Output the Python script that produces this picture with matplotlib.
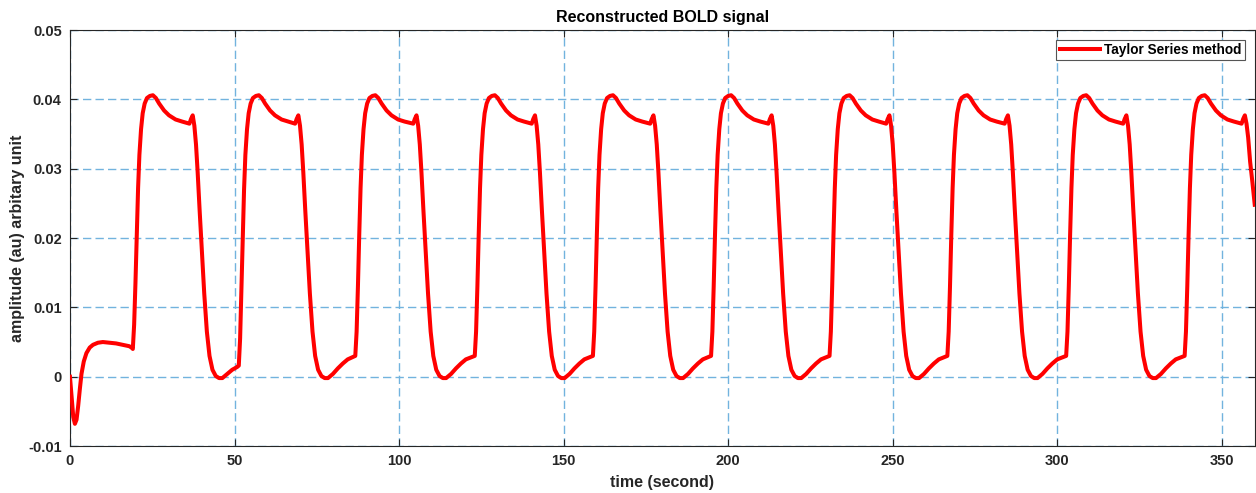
import matplotlib
matplotlib.use('Agg')
import matplotlib.pyplot as plt

# reconstructed BOLD response (time in s)
t_start = [0.0, 0.5, 1.0, 1.5, 2.0, 2.5, 3.0, 3.5, 4.2, 5.0, 6.0, 7.0, 8.5,
           10.0, 12.0, 14.0, 16.0, 18.0, 18.7]
y_start = [0.0, -0.0030, -0.0058, -0.0068, -0.0062, -0.0042, -0.0018, 0.0004,
           0.0022, 0.0034, 0.0042, 0.0046, 0.0049, 0.0050, 0.0049, 0.0048,
           0.0046, 0.0044, 0.0042]

t_cycles = [
    [19.1, 19.5, 19.9, 20.3, 20.7, 21.1, 21.6, 22.1, 22.7, 23.4, 24.3, 25.2,
     26.1, 27.1, 28.6, 30.1, 32.1, 34.1, 36.3, 36.8, 37.3,
     37.8, 38.3, 38.8, 39.4, 40.1, 40.8, 41.6, 42.4, 43.3, 44.3, 45.3, 46.3,
     47.8, 49.3, 50.8],
    [51.3, 51.7, 52.1, 52.5, 52.9, 53.3, 53.8, 54.3, 54.9, 55.6, 56.5, 57.4,
     58.3, 59.3, 60.8, 62.3, 64.3, 66.3, 68.4, 68.9, 69.4,
     69.9, 70.4, 70.9, 71.5, 72.2, 72.9, 73.7, 74.5, 75.4, 76.4, 77.4, 78.4,
     79.9, 81.4, 82.9, 84.4, 86.2],
    [86.7, 87.1, 87.5, 87.9, 88.3, 88.7, 89.2, 89.7, 90.3, 91.0, 91.9, 92.8,
     93.7, 94.7, 96.2, 97.7, 99.7, 101.7, 104.3, 104.8, 105.3,
     105.8, 106.3, 106.8, 107.4, 108.1, 108.8, 109.6, 110.4, 111.3, 112.3,
     113.3, 114.3, 115.8, 117.3, 118.8, 120.3, 122.5],
    [123.0, 123.4, 123.8, 124.2, 124.6, 125.0, 125.5, 126.0, 126.6, 127.3,
     128.2, 129.1, 130.0, 131.0, 132.5, 134.0, 136.0, 138.0, 140.3, 140.8,
     141.3,
     141.8, 142.3, 142.8, 143.4, 144.1, 144.8, 145.6, 146.4, 147.3, 148.3,
     149.3, 150.3, 151.8, 153.3, 154.8, 156.3, 158.4],
    [158.9, 159.3, 159.7, 160.1, 160.5, 160.9, 161.4, 161.9, 162.5, 163.2,
     164.1, 165.0, 165.9, 166.9, 168.4, 169.9, 171.9, 173.9, 176.3, 176.8,
     177.3,
     177.8, 178.3, 178.8, 179.4, 180.1, 180.8, 181.6, 182.4, 183.3, 184.3,
     185.3, 186.3, 187.8, 189.3, 190.8, 192.3, 194.3],
    [194.8, 195.2, 195.6, 196.0, 196.4, 196.8, 197.3, 197.8, 198.4, 199.1,
     200.0, 200.9, 201.8, 202.8, 204.3, 205.8, 207.8, 209.8, 212.2, 212.7,
     213.2,
     213.7, 214.2, 214.7, 215.3, 216.0, 216.7, 217.5, 218.3, 219.2, 220.2,
     221.2, 222.2, 223.7, 225.2, 226.7, 228.2, 230.3],
    [230.8, 231.2, 231.6, 232.0, 232.4, 232.8, 233.3, 233.8, 234.4, 235.1,
     236.0, 236.9, 237.8, 238.8, 240.3, 241.8, 243.8, 245.8, 248.0, 248.5,
     249.0,
     249.5, 250.0, 250.5, 251.1, 251.8, 252.5, 253.3, 254.1, 255.0, 256.0,
     257.0, 258.0, 259.5, 261.0, 262.5, 264.0, 266.1],
    [266.6, 267.0, 267.4, 267.8, 268.2, 268.6, 269.1, 269.6, 270.2, 270.9,
     271.8, 272.7, 273.6, 274.6, 276.1, 277.6, 279.6, 281.6, 284.0, 284.5,
     285.0,
     285.5, 286.0, 286.5, 287.1, 287.8, 288.5, 289.3, 290.1, 291.0, 292.0,
     293.0, 294.0, 295.5, 297.0, 298.5, 300.0, 302.2],
    [302.7, 303.1, 303.5, 303.9, 304.3, 304.7, 305.2, 305.7, 306.3, 307.0,
     307.9, 308.8, 309.7, 310.7, 312.2, 313.7, 315.7, 317.7, 320.0, 320.5,
     321.0,
     321.5, 322.0, 322.5, 323.1, 323.8, 324.5, 325.3, 326.1, 327.0, 328.0,
     329.0, 330.0, 331.5, 333.0, 334.5, 336.0, 338.2],
    [338.7, 339.1, 339.5, 339.9, 340.3, 340.7, 341.2, 341.7, 342.3, 343.0,
     343.9, 344.8, 345.7, 346.7, 348.2, 349.7, 351.7, 353.7, 356.0, 356.5,
     357.0,
     357.5, 358.0, 358.6, 359.3, 360.0],
]

y_on_first = [0.0040, 0.0075, 0.0135, 0.0205, 0.0272, 0.0320, 0.0357, 0.0380,
              0.0394, 0.0402, 0.0405, 0.0406, 0.0402, 0.0394, 0.0384, 0.0377,
              0.0371, 0.0368, 0.0365, 0.0372, 0.0377]
y_off_first = [0.0362, 0.0335, 0.0295, 0.0240, 0.0180, 0.0120, 0.0065, 0.0030,
               0.0010, 0.0001, -0.0002, -0.0002, 0.0004, 0.0010, 0.0014]
y_on_second = [0.0016, 0.0055, 0.0125, 0.0200, 0.0270, 0.0320, 0.0357, 0.0380,
               0.0394, 0.0402, 0.0405, 0.0406, 0.0402, 0.0394, 0.0384, 0.0377,
               0.0371, 0.0368, 0.0365, 0.0372, 0.0377]
y_on = [0.0030, 0.0065, 0.0130, 0.0205, 0.0272, 0.0320, 0.0357, 0.0380,
        0.0394, 0.0402, 0.0405, 0.0406, 0.0402, 0.0394, 0.0384, 0.0377,
        0.0371, 0.0368, 0.0365, 0.0372, 0.0377]
y_off = [0.0362, 0.0335, 0.0295, 0.0240, 0.0180, 0.0120, 0.0065, 0.0030,
         0.0010, 0.0001, -0.0002, -0.0002, 0.0004, 0.0012, 0.0019, 0.0025,
         0.0029]
y_tail = [0.0365, 0.0345, 0.0310, 0.0280, 0.0248]

x_ticks = [0, 50, 100, 150, 200, 250, 300, 350]
y_ticks = [-0.01, 0, 0.01, 0.02, 0.03, 0.04, 0.05]
y_tick_labels = ['-0.01', '0', '0.01', '0.02', '0.03', '0.04', '0.05']


def build_series():
    t = list(t_start)
    y = list(y_start)
    y_cycles = [y_on_first + y_off_first, y_on_second + y_off]
    y_cycles += [y_on + y_off] * 7
    y_cycles += [y_on + y_tail]
    for tc, yc in zip(t_cycles, y_cycles):
        t += tc
        y += yc
    return t, y


if __name__ == "__main__":

    plt.rcParams['font.family'] = ['Liberation Sans', 'DejaVu Sans']
    plt.rcParams['font.weight'] = 'bold'

    t, bold = build_series()

    fig = plt.figure(figsize=(12.56, 4.93), dpi=100)
    ax = fig.add_axes([0.0557, 0.0953, 0.9433, 0.8437])

    ax.plot(t, bold, color='red', lw=2.9, label='Taylor Series method',
            zorder=3)

    ax.set_xlim(0, 360)
    ax.set_ylim(-0.01, 0.05)
    ax.set_xticks(x_ticks)
    ax.set_yticks(y_ticks)
    ax.set_yticklabels(y_tick_labels)

    ax.grid(True, color='#72b3de', linestyle=(0, (6, 3)), linewidth=1.0)
    ax.tick_params(direction='in', top=True, right=True, length=5,
                   width=0.8, color='#262626', labelsize=10.5,
                   labelcolor='#262626', pad=6)
    for s in ax.spines.values():
        s.set_color('#262626')
        s.set_linewidth(0.8)

    ax.set_xlabel('time (second)', fontsize=11.5, fontweight='bold',
                  color='#262626', labelpad=5)
    ax.set_ylabel('amplitude (au) arbitary unit', fontsize=11.5,
                  fontweight='bold', color='#262626', labelpad=2)
    ax.set_title('Reconstructed BOLD signal', fontsize=11.5,
                 fontweight='bold', color='black', pad=6)

    leg = ax.legend(loc='upper right', fontsize=9.8, handlelength=3.0,
                    borderpad=0.25, handletextpad=0.3, borderaxespad=0.7,
                    fancybox=False, framealpha=1)
    leg.get_frame().set_edgecolor('#555555')
    leg.get_frame().set_linewidth(0.8)

    plt.savefig('out.png', dpi=100)
